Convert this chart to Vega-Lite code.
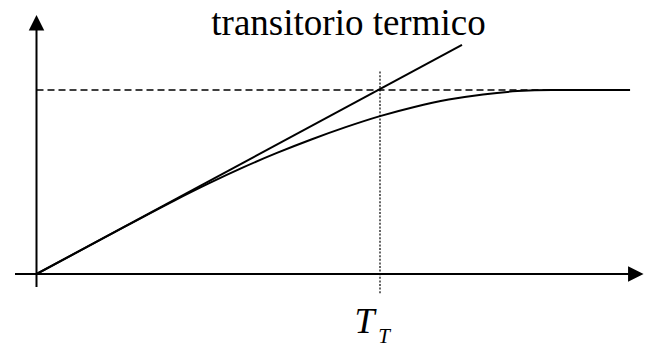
{
  "$schema": "https://vega.github.io/schema/vega-lite/v6.json",
  "width": 659,
  "height": 347,
  "padding": 0,
  "autosize": {"type": "none"},
  "background": "white",
  "config": {"view": {"stroke": null}},
  "datasets": {
    "axes": [
      {"axis": "x", "t": -0.0626, "v": 0},
      {"axis": "x", "t": 1.74, "v": 0},
      {"axis": "y", "t": 0, "v": -0.0707},
      {"axis": "y", "t": 0, "v": 1.36}
    ],
    "arrows": [
      {"axis": "x", "t": 1.7447, "v": 0},
      {"axis": "y", "t": 0, "v": 1.3652}
    ],
    "steady": [
      {"t": 0, "v": 1},
      {"t": 1.728, "v": 1}
    ],
    "tangent": [
      {"t": 0, "v": 0},
      {"t": 1.2387, "v": 1.2446}
    ],
    "marker": [
      {"t": 1, "v": 1.1},
      {"t": 1, "v": -0.109}
    ],
    "response": [
      {"t": 0, "v": 0},
      {"t": 0.2, "v": 0.2},
      {"t": 0.4, "v": 0.398},
      {"t": 0.5, "v": 0.491},
      {"t": 0.6, "v": 0.578},
      {"t": 0.7, "v": 0.658},
      {"t": 0.8, "v": 0.731},
      {"t": 0.9, "v": 0.798},
      {"t": 1.0, "v": 0.858},
      {"t": 1.1, "v": 0.908},
      {"t": 1.2, "v": 0.948},
      {"t": 1.3, "v": 0.976},
      {"t": 1.4, "v": 0.994},
      {"t": 1.5, "v": 1.0},
      {"t": 1.728, "v": 1.0}
    ],
    "title": [
      {"t": 0.9083, "v": 1.299, "label": "transitorio termico"}
    ],
    "symbol": [
      {"part": "main", "t": 0.955, "v": -0.3207, "label": "T"},
      {"part": "sub", "t": 1.012, "v": -0.375, "label": "T"}
    ]
  },
  "encoding": {
    "x": {
      "field": "t",
      "type": "quantitative",
      "scale": {"domain": [-0.10626, 1.81223], "nice": false, "zero": false},
      "axis": null
    },
    "y": {
      "field": "v",
      "type": "quantitative",
      "scale": {"domain": [-0.39674, 1.48913], "nice": false, "zero": false},
      "axis": null
    }
  },
  "layer": [
    {
      "data": {"name": "axes"},
      "mark": {"type": "line", "color": "black", "strokeWidth": 2},
      "encoding": {"detail": {"field": "axis"}}
    },
    {
      "data": {"name": "arrows"},
      "transform": [{"filter": "datum.axis === 'y'"}],
      "mark": {"type": "point", "shape": "M0,-1L-1,1L1,1Z", "size": 240, "filled": true, "color": "black", "opacity": 1, "strokeWidth": 0}
    },
    {
      "data": {"name": "arrows"},
      "transform": [{"filter": "datum.axis === 'x'"}],
      "mark": {"type": "point", "shape": "M1,0L-1,-1L-1,1Z", "size": 240, "filled": true, "color": "black", "opacity": 1, "strokeWidth": 0}
    },
    {
      "data": {"name": "steady"},
      "mark": {"type": "line", "color": "black", "strokeWidth": 1.6, "strokeDash": [7, 4]},
      "encoding": {}
    },
    {
      "data": {"name": "marker"},
      "mark": {"type": "line", "color": "black", "strokeWidth": 1.2, "strokeDash": [2, 1.6]},
      "encoding": {}
    },
    {
      "data": {"name": "tangent"},
      "mark": {"type": "line", "color": "black", "strokeWidth": 2},
      "encoding": {}
    },
    {
      "data": {"name": "response"},
      "mark": {"type": "line", "color": "black", "strokeWidth": 2, "interpolate": "monotone"},
      "encoding": {}
    },
    {
      "data": {"name": "title"},
      "mark": {"type": "text", "font": "Liberation Serif", "fontSize": 37, "align": "center", "baseline": "alphabetic", "color": "black"},
      "encoding": {"text": {"field": "label"}}
    },
    {
      "data": {"name": "symbol"},
      "transform": [{"filter": "datum.part === 'main'"}],
      "mark": {"type": "text", "font": "Liberation Serif", "fontStyle": "italic", "fontSize": 36, "align": "center", "baseline": "alphabetic", "color": "black"},
      "encoding": {"text": {"field": "label"}}
    },
    {
      "data": {"name": "symbol"},
      "transform": [{"filter": "datum.part === 'sub'"}],
      "mark": {"type": "text", "font": "Liberation Serif", "fontStyle": "italic", "fontSize": 21, "align": "center", "baseline": "alphabetic", "color": "black"},
      "encoding": {"text": {"field": "label"}}
    }
  ]
}
